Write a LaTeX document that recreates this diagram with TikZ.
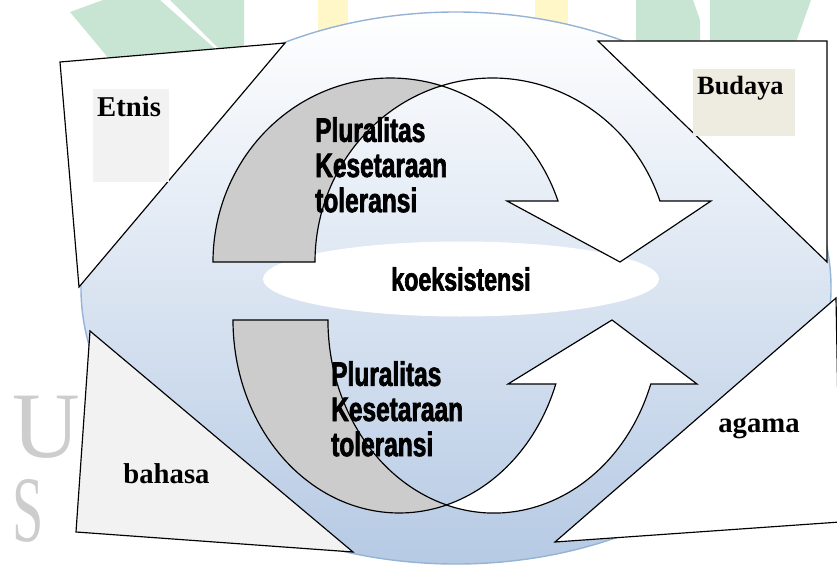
\documentclass[tikz,border=0pt]{standalone}
\usepackage{graphicx}
\usepackage{fontspec}
\setmainfont{Liberation Serif}
\newfontfamily\heavyfont{Liberation Sans Bold}[FakeStretch=0.72,FakeBold=2]
\usetikzlibrary{shapes.geometric}

\definecolor{wmgreen}{RGB}{200,228,211}
\definecolor{wmyellow}{RGB}{255,247,200}
\definecolor{wmgray}{RGB}{205,205,205}
\definecolor{discedge}{RGB}{149,179,215}
\definecolor{discbot}{RGB}{182,202,228}
\definecolor{bandgray}{RGB}{204,204,204}
\definecolor{sheetgray}{RGB}{242,242,242}
\definecolor{tagbeige}{RGB}{238,236,225}

\begin{document}
\begin{tikzpicture}[
  x=0.03cm, y=-0.03cm,
  sheet/.style={draw=black, line width=1pt, line join=miter},
  band/.style={draw=black, line width=1pt},
  heavy/.style={
    font=\fontsize{29pt}{30pt}\selectfont\heavyfont,
    align=left, inner sep=0pt
  },
  tag/.style={
    font=\fontsize{24.5pt}{28pt}\selectfont\bfseries,
    inner sep=0pt
  },
  tagbox/.style={
    tag, anchor=north west, align=left,
    inner xsep=3.4pt, inner ysep=0pt
  },
  wmark/.style={
    font=\fontsize{80pt}{71pt}\selectfont, text=wmgray,
    align=left, anchor=base west, inner sep=0pt
  }
]
\useasboundingbox (0,0) rectangle (837,565);

%% watermark di latar
\fill[wmgreen] (70,12) -- (103,0) -- (160,0) -- (222,55) -- (110,60) -- cycle;
\fill[wmgreen] (170,0) -- (244,0) -- (244,48) -- (218,48) -- cycle;
\fill[wmgreen] (636,0) -- (693,0) -- (700,20) -- (700,50) -- (636,50) -- cycle;
\fill[wmgreen] (710,0) -- (811,0) -- (795,45) -- (710,45) -- cycle;
\fill[wmyellow] (318,0) rectangle (348,40);
\fill[wmyellow] (535,0) rectangle (568,40);
\node[wmark] (wmletters) at (12,541) {U\\\scalebox{0.6}[1]{S}};

%% lingkaran besar
\node[ellipse, minimum width=22.5cm, minimum height=16.56cm, inner sep=0pt,
  top color=white, bottom color=discbot, draw=discedge, line width=1.2pt]
  (disc) at (456,288) {};

%% koeksistensi
\node[ellipse, fill=white, minimum width=11.88cm, minimum height=2.25cm,
  inner sep=0pt, font=\fontsize{27.5pt}{30pt}\selectfont\heavyfont]
  (koeks) at (461,279) {koeksistensi};

%% panah lengkung atas
\coordinate (topx) at (441.5,85.8);
\filldraw[band, fill=bandgray] (213,262)
  arc[start angle=180, end angle=286.7, x radius=177.5, y radius=184]
  arc[start angle=253.3, end angle=180, x radius=177.5, y radius=184] -- cycle;
\filldraw[band, fill=white] (topx)
  arc[start angle=253.3, end angle=340.64, x radius=177.5, y radius=184]
  -- (711,201) -- (620,262) -- (507,201) -- (558,201)
  arc[start angle=340.64, end angle=286.7, x radius=177.5, y radius=184] -- cycle;

\node[heavy, anchor=north west] (upper) at (315,117)
  {Pluralitas\\Kesetaraan\\toleransi};

%% panah lengkung bawah
\coordinate (botx) at (446.5,505);
\filldraw[band, fill=bandgray] (233,320)
  arc[start angle=180, end angle=73.4, x radius=166.2, y radius=193]
  arc[start angle=106.6, end angle=180, x radius=166.2, y radius=193] -- cycle;
\filldraw[band, fill=white] (botx)
  arc[start angle=106.6, end angle=19.37, x radius=166.2, y radius=193]
  -- (697,384) -- (612,320) -- (508,384) -- (555.8,384)
  arc[start angle=19.37, end angle=73.4, x radius=166.2, y radius=193] -- cycle;

\node[heavy, anchor=north west] (lower) at (331,361)
  {Pluralitas\\Kesetaraan\\toleransi};

%% empat segitiga
\filldraw[sheet, fill=white] (60,62) -- (285,43) -- (79,287) -- cycle;
\node[tagbox, fill=sheetgray, text width=58pt, text height=23pt,
  text depth=56.4pt] (etnis) at (93,89) {Etnis};

\filldraw[sheet, fill=white] (598,41) -- (827,41) -- (827,262) -- cycle;
\node[tagbox, fill=tagbeige, font=\fontsize{22.5pt}{27pt}\selectfont\bfseries,
  text width=80.2pt, text height=21.3pt, text depth=35.9pt]
  (budaya) at (693,69) {Budaya};

\filldraw[sheet, fill=sheetgray] (90,331) -- (76,532) -- (353,552) -- cycle;
\node[tag, anchor=base] (bahasa) at (166.5,483) {bahasa};

\filldraw[sheet, fill=white] (555,542) -- (836,298) -- (840,522) -- cycle;
\node[tag, anchor=base] (agama) at (759,432) {agama};

\end{tikzpicture}
\end{document}
